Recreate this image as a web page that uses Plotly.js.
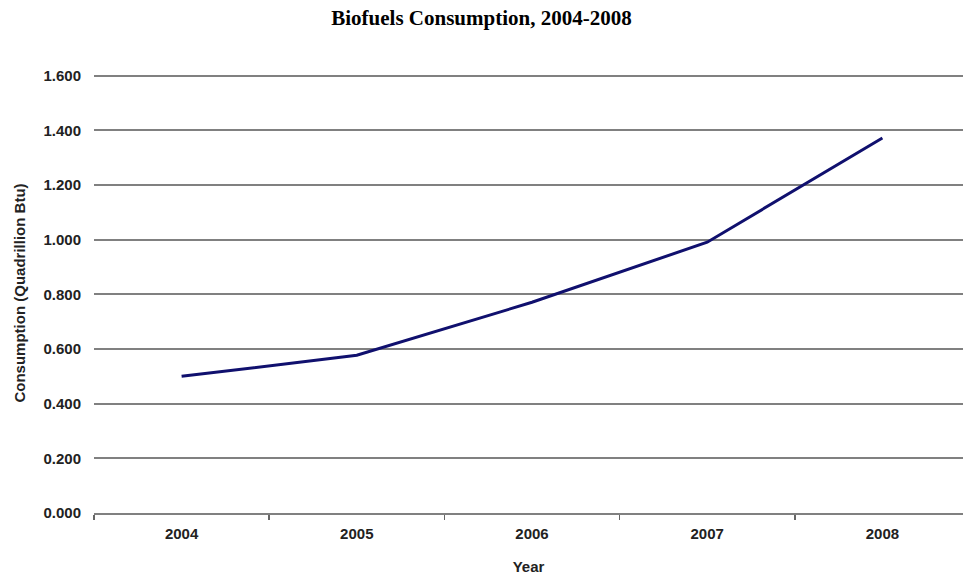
<!DOCTYPE html>
<html>
<head>
<meta charset="utf-8">
<script src="https://cdn.plot.ly/plotly-3.0.1.min.js"></script>
<style>html,body{margin:0;padding:0;background:#fff;}#chart{width:963px;height:576px;}</style>
</head>
<body>
<div id="chart"></div>
<script>
var years = ["2004", "2005", "2006", "2007", "2008"];
var consumption = [0.500, 0.577, 0.771, 0.991, 1.372];
var yTicks = [0, 0.2, 0.4, 0.6, 0.8, 1.0, 1.2, 1.4, 1.6];

var trace = {
  x: years,
  y: consumption,
  type: 'scatter',
  mode: 'lines',
  line: {color: '#10106e', width: 3},
  hoverinfo: 'skip'
};

var axisFont = {family: 'Liberation Sans, Arial, sans-serif', size: 15, color: '#222', weight: 'bold'};

var layout = {
  width: 963,
  height: 576,
  margin: {l: 94, r: 0, t: 73, b: 63},
  paper_bgcolor: '#fff',
  plot_bgcolor: '#fff',
  showlegend: false,
  title: {
    text: 'Biofuels Consumption, 2004-2008',
    font: {family: 'Liberation Serif, Times New Roman, serif', size: 21, color: '#000', weight: 'bold'},
    x: 0.5, xanchor: 'center', y: 0.97, yanchor: 'middle'
  },
  xaxis: {
    type: 'category',
    range: [-0.5, 4.46],
    tickson: 'boundaries',
    ticks: 'outside',
    ticklen: 5,
    tickwidth: 1.5,
    tickcolor: '#666',
    showgrid: false,
    showline: true,
    linecolor: '#808080',
    linewidth: 2,
    zeroline: false,
    tickfont: axisFont,
    ticklabelstandoff: 6,
    title: {text: 'Year', font: axisFont, standoff: 20}
  },
  yaxis: {
    range: [0, 1.61],
    tickvals: yTicks,
    tickformat: '.3f',
    showgrid: true,
    gridcolor: '#808080',
    gridwidth: 2,
    zeroline: false,
    showline: false,
    ticks: '',
    tickfont: axisFont,
    ticklabelstandoff: 12,
    title: {text: 'Consumption (Quadrillion Btu)', font: axisFont, standoff: 14}
  }
};

Plotly.newPlot('chart', [trace], layout, {displayModeBar: false, staticPlot: true});
</script>
</body>
</html>
